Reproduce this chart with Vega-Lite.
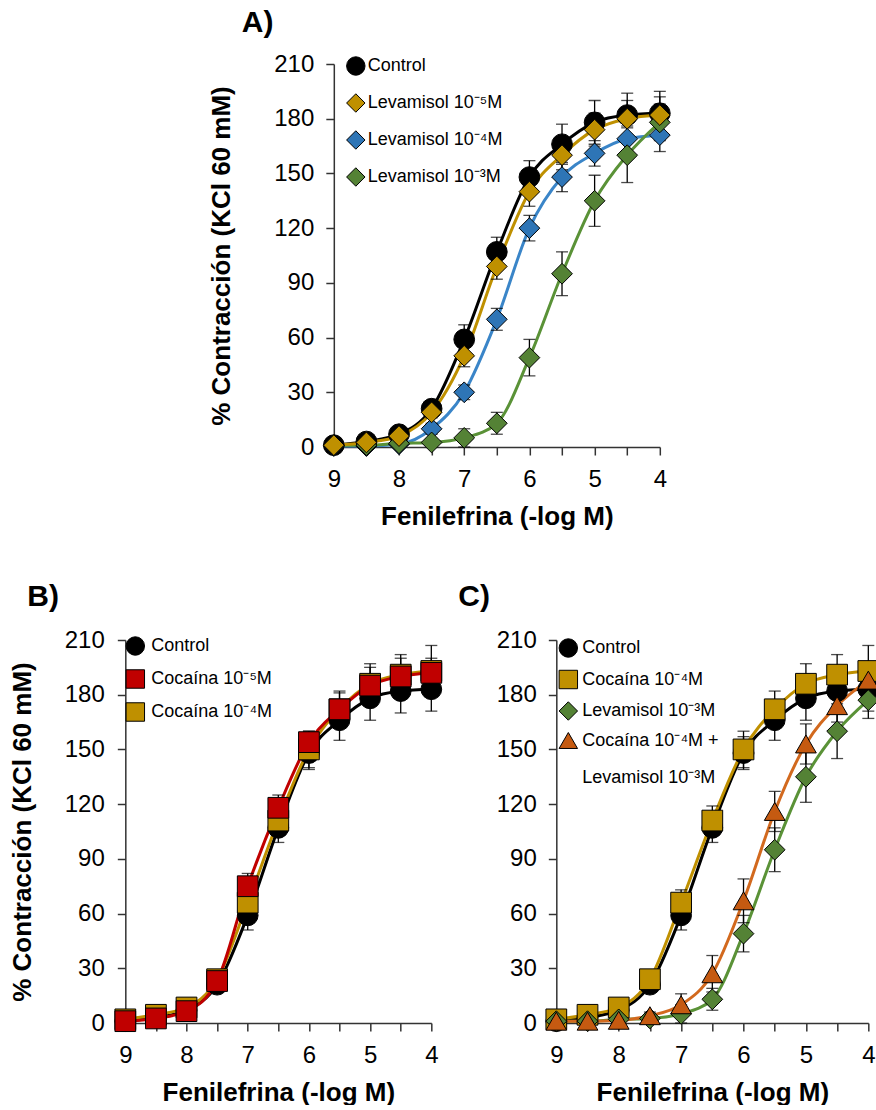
{
  "$schema": "https://vega.github.io/schema/vega-lite/v6.json",
  "background": "white",
  "padding": {"left": 9, "top": 8, "right": 0, "bottom": 0},
  "config": {
    "font": "Liberation Sans",
    "view": {"stroke": null},
    "axis": {
      "grid": false,
      "domainColor": "#333333",
      "tickColor": "#333333",
      "domainWidth": 1.5,
      "tickWidth": 1.5,
      "tickSize": 8,
      "labelFont": "Liberation Sans",
      "labelFontSize": 24,
      "labelColor": "black",
      "labelFlush": false,
      "labelOverlap": false,
      "titleFont": "Liberation Sans",
      "titleFontSize": 26,
      "titleFontWeight": "bold",
      "titleColor": "black"
    },
    "legend": {
      "labelFont": "Liberation Sans",
      "labelFontSize": 18,
      "labelColor": "black",
      "labelLimit": 400,
      "symbolSize": 340,
      "symbolStrokeColor": "black",
      "symbolStrokeWidth": 1,
      "symbolOpacity": 1,
      "padding": 0
    },
    "title": {"fontSize": 30, "fontWeight": "bold", "color": "black", "anchor": "start", "frame": "group", "font": "Liberation Sans"}
  },
  "datasets": {
    "panelA": [
      {"s": "Control", "x": 9, "y": 1, "sem": 1},
      {"s": "Control", "x": 8.5, "y": 3, "sem": 1},
      {"s": "Control", "x": 8, "y": 7, "sem": 2},
      {"s": "Control", "x": 7.5, "y": 21, "sem": 3},
      {"s": "Control", "x": 7, "y": 59, "sem": 8},
      {"s": "Control", "x": 6.5, "y": 107, "sem": 8},
      {"s": "Control", "x": 6, "y": 148, "sem": 9},
      {"s": "Control", "x": 5.5, "y": 166, "sem": 11},
      {"s": "Control", "x": 5, "y": 178, "sem": 12},
      {"s": "Control", "x": 4.5, "y": 182, "sem": 12},
      {"s": "Control", "x": 4, "y": 183, "sem": 12},
      {"s": "Levamisol 10⁻⁴M", "x": 9, "y": 0.5, "sem": 0.5},
      {"s": "Levamisol 10⁻⁴M", "x": 8.5, "y": 0.5, "sem": 0.5},
      {"s": "Levamisol 10⁻⁴M", "x": 8, "y": 1.5, "sem": 1},
      {"s": "Levamisol 10⁻⁴M", "x": 7.5, "y": 10, "sem": 3},
      {"s": "Levamisol 10⁻⁴M", "x": 7, "y": 30, "sem": 4},
      {"s": "Levamisol 10⁻⁴M", "x": 6.5, "y": 70, "sem": 6},
      {"s": "Levamisol 10⁻⁴M", "x": 6, "y": 120, "sem": 7},
      {"s": "Levamisol 10⁻⁴M", "x": 5.5, "y": 148, "sem": 8},
      {"s": "Levamisol 10⁻⁴M", "x": 5, "y": 161, "sem": 7},
      {"s": "Levamisol 10⁻⁴M", "x": 4.5, "y": 169, "sem": 7},
      {"s": "Levamisol 10⁻⁴M", "x": 4, "y": 171, "sem": 9},
      {"s": "Levamisol 10⁻³M", "x": 9, "y": 1, "sem": 1},
      {"s": "Levamisol 10⁻³M", "x": 8.5, "y": 1, "sem": 1},
      {"s": "Levamisol 10⁻³M", "x": 8, "y": 2, "sem": 1},
      {"s": "Levamisol 10⁻³M", "x": 7.5, "y": 2.5, "sem": 2},
      {"s": "Levamisol 10⁻³M", "x": 7, "y": 5, "sem": 5},
      {"s": "Levamisol 10⁻³M", "x": 6.5, "y": 13, "sem": 6},
      {"s": "Levamisol 10⁻³M", "x": 6, "y": 49, "sem": 10},
      {"s": "Levamisol 10⁻³M", "x": 5.5, "y": 95, "sem": 12},
      {"s": "Levamisol 10⁻³M", "x": 5, "y": 135, "sem": 14},
      {"s": "Levamisol 10⁻³M", "x": 4.5, "y": 160, "sem": 15},
      {"s": "Levamisol 10⁻³M", "x": 4, "y": 178, "sem": 10},
      {"s": "Levamisol 10⁻⁵M", "x": 9, "y": 1, "sem": 1},
      {"s": "Levamisol 10⁻⁵M", "x": 8.5, "y": 2.5, "sem": 1},
      {"s": "Levamisol 10⁻⁵M", "x": 8, "y": 6, "sem": 2},
      {"s": "Levamisol 10⁻⁵M", "x": 7.5, "y": 19, "sem": 3},
      {"s": "Levamisol 10⁻⁵M", "x": 7, "y": 50, "sem": 6},
      {"s": "Levamisol 10⁻⁵M", "x": 6.5, "y": 99, "sem": 7},
      {"s": "Levamisol 10⁻⁵M", "x": 6, "y": 140, "sem": 8},
      {"s": "Levamisol 10⁻⁵M", "x": 5.5, "y": 160, "sem": 8},
      {"s": "Levamisol 10⁻⁵M", "x": 5, "y": 174, "sem": 9},
      {"s": "Levamisol 10⁻⁵M", "x": 4.5, "y": 180, "sem": 10},
      {"s": "Levamisol 10⁻⁵M", "x": 4, "y": 182, "sem": 10}
    ],
    "panelB": [
      {"s": "Control", "x": 9, "y": 1, "sem": 1},
      {"s": "Control", "x": 8.5, "y": 3, "sem": 1},
      {"s": "Control", "x": 8, "y": 7, "sem": 2},
      {"s": "Control", "x": 7.5, "y": 21, "sem": 3},
      {"s": "Control", "x": 7, "y": 59, "sem": 8},
      {"s": "Control", "x": 6.5, "y": 107, "sem": 8},
      {"s": "Control", "x": 6, "y": 148, "sem": 9},
      {"s": "Control", "x": 5.5, "y": 166, "sem": 11},
      {"s": "Control", "x": 5, "y": 178, "sem": 12},
      {"s": "Control", "x": 4.5, "y": 182, "sem": 12},
      {"s": "Control", "x": 4, "y": 183, "sem": 12},
      {"s": "Cocaína 10⁻⁴M", "x": 9, "y": 2, "sem": 1},
      {"s": "Cocaína 10⁻⁴M", "x": 8.5, "y": 4.5, "sem": 1},
      {"s": "Cocaína 10⁻⁴M", "x": 8, "y": 8.5, "sem": 2},
      {"s": "Cocaína 10⁻⁴M", "x": 7.5, "y": 24, "sem": 3},
      {"s": "Cocaína 10⁻⁴M", "x": 7, "y": 66, "sem": 7},
      {"s": "Cocaína 10⁻⁴M", "x": 6.5, "y": 111, "sem": 8},
      {"s": "Cocaína 10⁻⁴M", "x": 6, "y": 150, "sem": 10},
      {"s": "Cocaína 10⁻⁴M", "x": 5.5, "y": 172, "sem": 10},
      {"s": "Cocaína 10⁻⁴M", "x": 5, "y": 186, "sem": 11},
      {"s": "Cocaína 10⁻⁴M", "x": 4.5, "y": 191, "sem": 11},
      {"s": "Cocaína 10⁻⁴M", "x": 4, "y": 193, "sem": 14},
      {"s": "Cocaína 10⁻⁵M", "x": 9, "y": 1, "sem": 1},
      {"s": "Cocaína 10⁻⁵M", "x": 8.5, "y": 2.5, "sem": 1},
      {"s": "Cocaína 10⁻⁵M", "x": 8, "y": 6.5, "sem": 2},
      {"s": "Cocaína 10⁻⁵M", "x": 7.5, "y": 23, "sem": 3},
      {"s": "Cocaína 10⁻⁵M", "x": 7, "y": 75, "sem": 7},
      {"s": "Cocaína 10⁻⁵M", "x": 6.5, "y": 118, "sem": 7},
      {"s": "Cocaína 10⁻⁵M", "x": 6, "y": 154, "sem": 6},
      {"s": "Cocaína 10⁻⁵M", "x": 5.5, "y": 172, "sem": 9},
      {"s": "Cocaína 10⁻⁵M", "x": 5, "y": 185, "sem": 10},
      {"s": "Cocaína 10⁻⁵M", "x": 4.5, "y": 190, "sem": 10},
      {"s": "Cocaína 10⁻⁵M", "x": 4, "y": 192, "sem": 8}
    ],
    "panelC": [
      {"s": "Control", "x": 9, "y": 1, "sem": 1},
      {"s": "Control", "x": 8.5, "y": 3, "sem": 1},
      {"s": "Control", "x": 8, "y": 7, "sem": 2},
      {"s": "Control", "x": 7.5, "y": 21, "sem": 3},
      {"s": "Control", "x": 7, "y": 59, "sem": 8},
      {"s": "Control", "x": 6.5, "y": 107, "sem": 8},
      {"s": "Control", "x": 6, "y": 148, "sem": 9},
      {"s": "Control", "x": 5.5, "y": 166, "sem": 11},
      {"s": "Control", "x": 5, "y": 178, "sem": 12},
      {"s": "Control", "x": 4.5, "y": 182, "sem": 12},
      {"s": "Control", "x": 4, "y": 183, "sem": 12},
      {"s": "Cocaína 10⁻⁴M", "x": 9, "y": 2, "sem": 1},
      {"s": "Cocaína 10⁻⁴M", "x": 8.5, "y": 4.5, "sem": 1},
      {"s": "Cocaína 10⁻⁴M", "x": 8, "y": 8.5, "sem": 2},
      {"s": "Cocaína 10⁻⁴M", "x": 7.5, "y": 24, "sem": 3},
      {"s": "Cocaína 10⁻⁴M", "x": 7, "y": 66, "sem": 7},
      {"s": "Cocaína 10⁻⁴M", "x": 6.5, "y": 111, "sem": 8},
      {"s": "Cocaína 10⁻⁴M", "x": 6, "y": 150, "sem": 10},
      {"s": "Cocaína 10⁻⁴M", "x": 5.5, "y": 172, "sem": 10},
      {"s": "Cocaína 10⁻⁴M", "x": 5, "y": 186, "sem": 11},
      {"s": "Cocaína 10⁻⁴M", "x": 4.5, "y": 191, "sem": 11},
      {"s": "Cocaína 10⁻⁴M", "x": 4, "y": 193, "sem": 14},
      {"s": "Levamisol 10⁻³M", "x": 9, "y": 1, "sem": 1},
      {"s": "Levamisol 10⁻³M", "x": 8.5, "y": 1, "sem": 1},
      {"s": "Levamisol 10⁻³M", "x": 8, "y": 2, "sem": 1},
      {"s": "Levamisol 10⁻³M", "x": 7.5, "y": 2.5, "sem": 2},
      {"s": "Levamisol 10⁻³M", "x": 7, "y": 5, "sem": 5},
      {"s": "Levamisol 10⁻³M", "x": 6.5, "y": 13, "sem": 6},
      {"s": "Levamisol 10⁻³M", "x": 6, "y": 49, "sem": 10},
      {"s": "Levamisol 10⁻³M", "x": 5.5, "y": 95, "sem": 12},
      {"s": "Levamisol 10⁻³M", "x": 5, "y": 135, "sem": 14},
      {"s": "Levamisol 10⁻³M", "x": 4.5, "y": 160, "sem": 15},
      {"s": "Levamisol 10⁻³M", "x": 4, "y": 177, "sem": 10},
      {"s": "Cocaína 10⁻⁴M + Levamisol 10⁻³M", "x": 9, "y": 1, "sem": 0.5},
      {"s": "Cocaína 10⁻⁴M + Levamisol 10⁻³M", "x": 8.5, "y": 1, "sem": 0.5},
      {"s": "Cocaína 10⁻⁴M + Levamisol 10⁻³M", "x": 8, "y": 1.5, "sem": 1},
      {"s": "Cocaína 10⁻⁴M + Levamisol 10⁻³M", "x": 7.5, "y": 4, "sem": 2},
      {"s": "Cocaína 10⁻⁴M + Levamisol 10⁻³M", "x": 7, "y": 10, "sem": 6},
      {"s": "Cocaína 10⁻⁴M + Levamisol 10⁻³M", "x": 6.5, "y": 27, "sem": 10},
      {"s": "Cocaína 10⁻⁴M + Levamisol 10⁻³M", "x": 6, "y": 67, "sem": 12},
      {"s": "Cocaína 10⁻⁴M + Levamisol 10⁻³M", "x": 5.5, "y": 116, "sem": 11},
      {"s": "Cocaína 10⁻⁴M + Levamisol 10⁻³M", "x": 5, "y": 153, "sem": 11},
      {"s": "Cocaína 10⁻⁴M + Levamisol 10⁻³M", "x": 4.5, "y": 174, "sem": 9},
      {"s": "Cocaína 10⁻⁴M + Levamisol 10⁻³M", "x": 4, "y": 188, "sem": 10}
    ]
  },
  "center": true,
  "spacing": 53,
  "resolve": {
    "scale": {"fill": "independent", "shape": "independent", "stroke": "independent"},
    "legend": {"fill": "independent", "shape": "independent"}
  },
  "vconcat": [
    {
      "title": {"text": "A)", "dx": -92, "offset": 14},
      "width": 326,
      "height": 383,
      "data": {"name": "panelA"},
      "encoding": {
        "x": {
          "field": "x", "type": "quantitative",
          "scale": {"domain": [4, 9], "reverse": true, "nice": false, "zero": false},
          "axis": {"title": "Fenilefrina (-log M)", "values": [9, 8.5, 8, 7.5, 7, 6.5, 6, 5.5, 5, 4.5, 4], "labelExpr": "datum.value % 1 === 0 ? format(datum.value, 'd') : ''", "labelPadding": 12, "titlePadding": 12}
        },
        "y": {
          "field": "y", "type": "quantitative",
          "scale": {"domain": [0, 210], "nice": false},
          "axis": {"title": "% Contracción (KCl 60 mM)", "values": [0, 30, 60, 90, 120, 150, 180, 210], "labelPadding": 12, "titlePadding": 39}
        }
      },
      "layer": [
        {
          "mark": {"type": "line", "interpolate": "monotone", "strokeWidth": 3},
          "encoding": {
            "stroke": {"field": "s", "type": "nominal", "legend": null,
              "scale": {"domain": ["Levamisol 10⁻³M", "Levamisol 10⁻⁴M", "Levamisol 10⁻⁵M", "Control"], "range": ["#5A9237", "#3A85C8", "#BF9000", "#000000"]}}
          }
        },
        {
          "mark": {"type": "errorbar", "color": "black", "thickness": 1.3, "ticks": {"size": 12}},
          "encoding": {"yError": {"field": "sem"}}
        },
        {
          "mark": {"type": "point", "filled": true, "size": 430, "stroke": "black", "strokeWidth": 1, "opacity": 1},
          "encoding": {
            "fill": {"field": "s", "type": "nominal",
              "scale": {"domain": ["Control", "Levamisol 10⁻⁵M", "Levamisol 10⁻⁴M", "Levamisol 10⁻³M"], "range": ["#000000", "#BF9000", "#2E75B6", "#548235"]},
              "legend": {"orient": "none", "legendX": 12, "legendY": -8, "title": null, "rowPadding": 13, "labelOffset": 2,
                "encode": {"symbols": {"update": {"stroke": {"value": "black"}, "strokeWidth": {"value": 1}}}}}},
            "shape": {"field": "s", "type": "nominal",
              "scale": {"domain": ["Control", "Levamisol 10⁻⁵M", "Levamisol 10⁻⁴M", "Levamisol 10⁻³M"], "range": ["circle", "diamond", "diamond", "diamond"]},
              "legend": {"orient": "none", "legendX": 12, "legendY": -8, "title": null, "rowPadding": 13, "labelOffset": 2,
                "encode": {"symbols": {"update": {"stroke": {"value": "black"}, "strokeWidth": {"value": 1}}}}}}
          }
        }
      ]
    },
    {
      "spacing": 14,
      "resolve": {
        "scale": {"fill": "independent", "shape": "independent", "stroke": "independent"},
        "legend": {"fill": "independent", "shape": "independent"}
      },
      "hconcat": [
        {
          "title": {"text": "B)", "dx": -98, "offset": 16},
          "width": 306,
          "height": 383,
          "data": {"name": "panelB"},
          "encoding": {
            "x": {
              "field": "x", "type": "quantitative",
              "scale": {"domain": [4, 9], "reverse": true, "nice": false, "zero": false},
              "axis": {"title": "Fenilefrina (-log M)", "values": [9, 8.5, 8, 7.5, 7, 6.5, 6, 5.5, 5, 4.5, 4], "labelExpr": "datum.value % 1 === 0 ? format(datum.value, 'd') : ''", "labelPadding": 12, "titlePadding": 12}
            },
            "y": {
              "field": "y", "type": "quantitative",
              "scale": {"domain": [0, 210], "nice": false},
              "axis": {"title": "% Contracción (KCl 60 mM)", "values": [0, 30, 60, 90, 120, 150, 180, 210], "labelPadding": 13, "titlePadding": 29}
            }
          },
          "layer": [
            {
              "mark": {"type": "line", "interpolate": "monotone", "strokeWidth": 3},
              "encoding": {
                "stroke": {"field": "s", "type": "nominal", "legend": null,
                  "scale": {"domain": ["Cocaína 10⁻⁴M", "Cocaína 10⁻⁵M", "Control"], "range": ["#BF9000", "#C00000", "#000000"]}}
              }
            },
            {
              "mark": {"type": "errorbar", "color": "black", "thickness": 1.3, "ticks": {"size": 12}},
              "encoding": {"yError": {"field": "sem"}}
            },
            {
              "mark": {"type": "point", "filled": true, "size": 430, "stroke": "black", "strokeWidth": 1, "opacity": 1},
              "encoding": {
                "fill": {"field": "s", "type": "nominal",
                  "scale": {"domain": ["Control", "Cocaína 10⁻⁵M", "Cocaína 10⁻⁴M"], "range": ["#000000", "#C00000", "#BF9000"]},
                  "legend": {"orient": "none", "legendX": 0, "legendY": -4, "title": null, "rowPadding": 9, "labelOffset": 6,
                    "encode": {"symbols": {"update": {"stroke": {"value": "black"}, "strokeWidth": {"value": 1}}}}}},
                "shape": {"field": "s", "type": "nominal",
                  "scale": {"domain": ["Control", "Cocaína 10⁻⁵M", "Cocaína 10⁻⁴M"], "range": ["circle", "square", "square"]},
                  "legend": {"orient": "none", "legendX": 0, "legendY": -4, "title": null, "rowPadding": 9, "labelOffset": 6,
                    "encode": {"symbols": {"update": {"stroke": {"value": "black"}, "strokeWidth": {"value": 1}}}}}}
              }
            }
          ]
        },
        {
          "title": {"text": "C)", "dx": -98, "offset": 16},
          "width": 312,
          "height": 383,
          "data": {"name": "panelC"},
          "encoding": {
            "x": {
              "field": "x", "type": "quantitative",
              "scale": {"domain": [4, 9], "reverse": true, "nice": false, "zero": false},
              "axis": {"title": "Fenilefrina (-log M)", "values": [9, 8.5, 8, 7.5, 7, 6.5, 6, 5.5, 5, 4.5, 4], "labelExpr": "datum.value % 1 === 0 ? format(datum.value, 'd') : ''", "labelPadding": 12, "titlePadding": 12}
            },
            "y": {
              "field": "y", "type": "quantitative",
              "scale": {"domain": [0, 210], "nice": false},
              "axis": {"title": null, "values": [0, 30, 60, 90, 120, 150, 180, 210], "labelPadding": 12}
            }
          },
          "layer": [
            {
              "mark": {"type": "line", "interpolate": "monotone", "strokeWidth": 3},
              "encoding": {
                "stroke": {"field": "s", "type": "nominal", "legend": null,
                  "scale": {"domain": ["Cocaína 10⁻⁴M + Levamisol 10⁻³M", "Levamisol 10⁻³M", "Cocaína 10⁻⁴M", "Control"], "range": ["#D2691E", "#5A9237", "#BF9000", "#000000"]}}
              }
            },
            {
              "mark": {"type": "errorbar", "color": "black", "thickness": 1.3, "ticks": {"size": 12}},
              "encoding": {"yError": {"field": "sem"}}
            },
            {
              "mark": {"type": "point", "filled": true, "size": 430, "stroke": "black", "strokeWidth": 1, "opacity": 1},
              "encoding": {
                "fill": {"field": "s", "type": "nominal",
                  "scale": {"domain": ["Control", "Cocaína 10⁻⁴M", "Levamisol 10⁻³M", "Cocaína 10⁻⁴M + Levamisol 10⁻³M"], "range": ["#000000", "#BF9000", "#548235", "#C55A11"]},
                  "legend": {"orient": "none", "legendX": 2, "legendY": -2, "title": null, "rowPadding": 7.5, "labelOffset": 4,
                    "labelExpr": "indexof(datum.label, '+') > 0 ? ['Cocaína 10⁻⁴M +', 'Levamisol 10⁻³M'] : datum.label",
                    "encode": {"labels": {"update": {"lineHeight": {"value": 37}}}, "symbols": {"update": {"stroke": {"value": "black"}, "strokeWidth": {"value": 1}}}}}},
                "shape": {"field": "s", "type": "nominal",
                  "scale": {"domain": ["Control", "Cocaína 10⁻⁴M", "Levamisol 10⁻³M", "Cocaína 10⁻⁴M + Levamisol 10⁻³M"], "range": ["circle", "square", "diamond", "triangle-up"]},
                  "legend": {"orient": "none", "legendX": 2, "legendY": -2, "title": null, "rowPadding": 7.5, "labelOffset": 4,
                    "labelExpr": "indexof(datum.label, '+') > 0 ? ['Cocaína 10⁻⁴M +', 'Levamisol 10⁻³M'] : datum.label",
                    "encode": {"labels": {"update": {"lineHeight": {"value": 37}}}, "symbols": {"update": {"stroke": {"value": "black"}, "strokeWidth": {"value": 1}}}}}}
              }
            }
          ]
        }
      ]
    }
  ]
}
